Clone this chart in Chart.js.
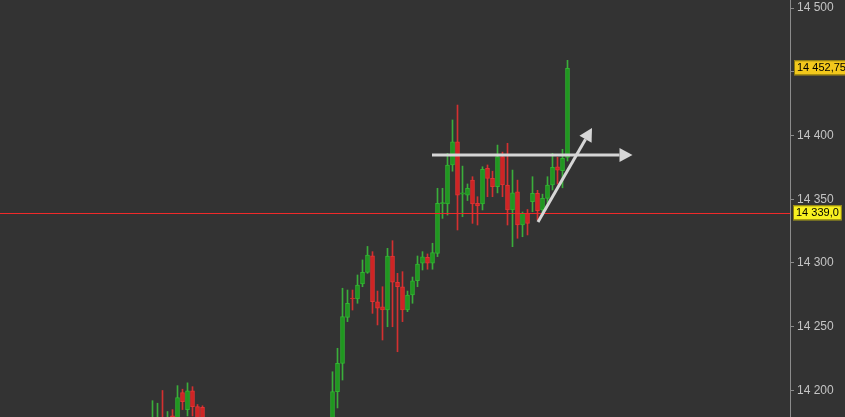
<!DOCTYPE html>
<html>
<head>
<meta charset="utf-8">
<script src="https://cdn.jsdelivr.net/npm/chart.js@4.4.1/dist/chart.umd.min.js"></script>
<style>
  html, body { margin: 0; padding: 0; background: #333333; }
  #wrap { width: 845px; height: 417px; }
</style>
</head>
<body>
<div id="wrap"><canvas id="chart"></canvas></div>
<script>
// slots on the time axis (one candle every slot)
const slotCount = 158;

// candles: slot index, open, high, low, close
const candleSlot  = [30,31,32,33,34,35,36,37,38,39,40,
  66,67,68,69,70,71,72,73,74,75,76,77,78,79,80,81,82,83,84,85,86,87,88,89,90,
  91,92,93,94,95,96,97,98,99,100,101,102,103,104,105,106,107,108,109,110,111,112,113];
const candleOpen  = [14165,14168,14178,14168,14180.2,14175,14198.3,14185,14199.8,14187.3,14186.8,
  14170,14199.1,14221.3,14257.4,14272.5,14271.8,14283.5,14292.7,14305.7,14269.6,14265.7,14263.1,14305.5,14284.9,14281.4,14263.1,14274.9,14286.1,14299.8,14304.5,14299.8,14307.6,14346.5,14346.3,14376.9,
  14395.1,14353.9,14353.3,14365.1,14346.8,14346.3,14374.3,14366.4,14359.8,14383.4,14361.2,14341.6,14355.9,14329.8,14339.0,14348.1,14354.7,14341.6,14350.7,14361.2,14375.5,14372.4,14382.9];
const candleHigh  = [14192,14190,14200,14183.5,14185,14203.8,14201,14206,14203,14189,14188,
  14214.7,14233.1,14280.2,14278.8,14278.8,14290.6,14302.4,14313,14308.9,14278,14281.4,14311.5,14317.5,14291.9,14293.2,14278,14289,14305.5,14308.9,14307.1,14315.5,14358.6,14358.6,14386.0,14412.2,
  14423.9,14376,14362,14367.7,14352,14375.5,14376.9,14372,14392.5,14387,14393.9,14372.9,14365,14340,14342,14367.7,14357,14354,14367.7,14386.0,14383,14389.2,14459];
const candleLow   = [14160,14160,14160,14160,14160,14170,14185,14180,14180,14165,14165,
  14165,14186.3,14208.2,14254,14263.1,14268.4,14281.4,14291.9,14260.5,14251.4,14239.6,14250,14250,14230.4,14254,14261.8,14268.4,14281.4,14294.5,14295.1,14295.1,14305,14335,14337.6,14372,
  14325.9,14336.3,14349,14331.1,14329.8,14341.6,14352,14352,14355,14352,14329.8,14312.8,14319.4,14320.6,14322,14340.2,14333.7,14338,14345.5,14357.3,14362,14359,14380];
const candleClose = [14175,14176,14170,14175,14170,14194.4,14191.2,14199.8,14187.3,14175,14172,
  14199.1,14221.3,14257.9,14268.4,14271.8,14282.7,14292.7,14306.3,14269.6,14264.5,14263.1,14305.5,14284.9,14281.4,14263.1,14274.9,14286.1,14299.2,14304.9,14299.8,14308.1,14346.8,14347.3,14376.9,14395.1,
  14353.3,14355,14358.6,14346.3,14344.7,14373.5,14366.4,14359.8,14383.4,14361.2,14341.6,14355.1,14329.8,14339.0,14331.1,14354.7,14341,14350.7,14361.2,14375.1,14372.9,14382.1,14452.75];

// y axis
const yMin = 14179.2;
const yMax = 14506.3;
const yStep = 50;
const hiddenTicks = [14450];

// price markers
const levelPrice = 14339.0;
const lastPrice = 14452.75;

// drawn arrows: [fromSlot, fromPrice, toSlot, toPrice]
const arrowLines = [
  [85.9, 14384.7, 126.0, 14384.7],
  [107.1, 14332.2, 117.9, 14405.9]
];

const upWick = '#3aae3a', downWick = '#d43030';
const upBody = '#1f961f', downBody = '#cf2424';
const upEdge = '#30b530', downEdge = '#e23434';

// build the bar data from the arrays
const labels = [];
const wickData = [];
const bodyData = [];
const wickColors = [];
const bodyColors = [];
const edgeColors = [];
for (let i = 0; i < slotCount; i++) {
  labels.push(String(i));
  wickData.push(null);
  bodyData.push(null);
  wickColors.push(upWick);
  bodyColors.push(upBody);
  edgeColors.push(upEdge);
}
candleSlot.forEach(function(slot, k) {
  let up = candleClose[k] >= candleOpen[k];
  wickData[slot] = [candleLow[k], candleHigh[k]];
  bodyData[slot] = [candleOpen[k], candleClose[k]];
  wickColors[slot] = up ? upWick : downWick;
  bodyColors[slot] = up ? upBody : downBody;
  edgeColors[slot] = up ? upEdge : downEdge;
});

function fmt(v, dec) {
  let parts = v.toFixed(dec).split('.');
  let intPart = parts[0].replace(/\B(?=(\d{3})+(?!\d))/g, ' ');
  return parts.length > 1 ? intPart + ',' + parts[1] : intPart;
}

function drawArrow(ctx, x1, y1, x2, y2) {
  let ang = Math.atan2(y2 - y1, x2 - x1);
  let headLen = 13, headW = 7;
  let bx = x2 - Math.cos(ang) * headLen;
  let by = y2 - Math.sin(ang) * headLen;
  ctx.beginPath();
  ctx.moveTo(x1, y1);
  ctx.lineTo(bx, by);
  ctx.stroke();
  ctx.beginPath();
  ctx.moveTo(x2, y2);
  ctx.lineTo(bx + Math.sin(ang) * headW, by - Math.cos(ang) * headW);
  ctx.lineTo(bx - Math.sin(ang) * headW, by + Math.cos(ang) * headW);
  ctx.closePath();
  ctx.fill();
}

function priceBox(ctx, x, y, text, fill) {
  ctx.font = '11px "Liberation Sans", Arial, sans-serif';
  let w = ctx.measureText(text).width + 6;
  ctx.fillStyle = fill;
  ctx.fillRect(x, y - 8, w, 15);
  ctx.strokeStyle = '#8a7a10';
  ctx.lineWidth = 1;
  ctx.strokeRect(x + 0.5, y - 7.5, w - 1, 14);
  ctx.fillStyle = '#000000';
  ctx.textBaseline = 'middle';
  ctx.textAlign = 'left';
  ctx.fillText(text, x + 3, y);
}

const overlayPlugin = {
  id: 'overlay',
  beforeDraw(chart) {
    let ctx = chart.ctx;
    ctx.save();
    ctx.fillStyle = '#333333';
    ctx.fillRect(0, 0, chart.width, chart.height);
    ctx.restore();
  },
  afterDatasetsDraw(chart) {
    let ctx = chart.ctx;
    let xs = chart.scales.x, ys = chart.scales.y;
    let area = chart.chartArea;
    ctx.save();
    // level line
    let ly = Math.round(ys.getPixelForValue(levelPrice)) + 0.5;
    ctx.strokeStyle = '#f02a2a';
    ctx.lineWidth = 1;
    ctx.beginPath();
    ctx.moveTo(area.left, ly);
    ctx.lineTo(area.right, ly);
    ctx.stroke();
    // arrows
    ctx.strokeStyle = '#d6d6d6';
    ctx.fillStyle = '#d6d6d6';
    ctx.lineWidth = 3;
    arrowLines.forEach(function(a) {
      let step = xs.getPixelForValue(1) - xs.getPixelForValue(0);
      let x1 = xs.getPixelForValue(0) + a[0] * step;
      let x2 = xs.getPixelForValue(0) + a[2] * step;
      drawArrow(ctx, x1, ys.getPixelForValue(a[1]), x2, ys.getPixelForValue(a[3]));
    });
    ctx.restore();
  },
  afterDraw(chart) {
    let ctx = chart.ctx;
    let ys = chart.scales.y;
    let area = chart.chartArea;
    ctx.save();
    priceBox(ctx, area.right + 4, ys.getPixelForValue(lastPrice), fmt(lastPrice, 2), '#f2c81c');
    priceBox(ctx, area.right + 3, ys.getPixelForValue(levelPrice), fmt(levelPrice, 1), '#f8f020');
    ctx.restore();
  }
};

new Chart(document.getElementById('chart'), {
  type: 'bar',
  plugins: [overlayPlugin],
  data: {
    labels: labels,
    datasets: [{
      data: wickData,
      backgroundColor: wickColors,
      barThickness: 1,
      grouped: false,
      order: 2
    }, {
      data: bodyData,
      backgroundColor: bodyColors,
      borderColor: edgeColors,
      borderWidth: 1,
      borderSkipped: false,
      barThickness: 4,
      grouped: false,
      order: 1
    }]
  },
  options: {
    responsive: true,
    maintainAspectRatio: false,
    devicePixelRatio: 1,
    animation: false,
    layout: { padding: 0 },
    plugins: {
      legend: { display: false },
      tooltip: { enabled: false }
    },
    scales: {
      x: { display: false },
      y: {
        position: 'right',
        min: yMin,
        max: yMax,
        afterFit: function(scale) {
          scale.width = 55;
          scale.paddingTop = 0;
          scale.paddingBottom = 0;
        },
        border: { display: true, color: '#8c8c8c' },
        grid: { drawOnChartArea: false, color: '#8c8c8c', tickLength: 4 },
        ticks: {
          stepSize: yStep,
          includeBounds: false,
          color: '#c4c4c4',
          padding: 3,
          font: { family: '"Liberation Sans", Arial, sans-serif', size: 12 },
          callback: function(v) {
            return hiddenTicks.indexOf(v) >= 0 ? '' : fmt(v, 0);
          }
        }
      }
    }
  }
});
</script>
</body>
</html>
